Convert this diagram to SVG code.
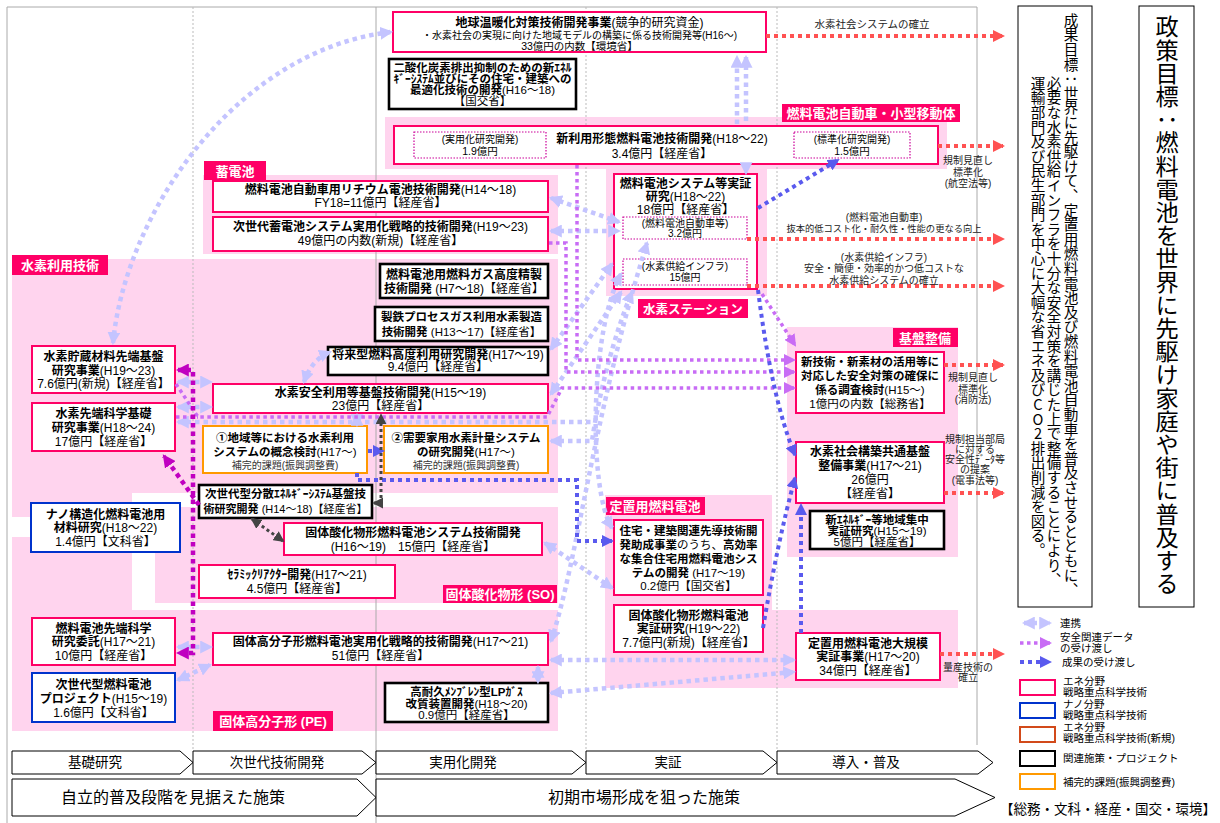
<svg xmlns="http://www.w3.org/2000/svg" width="1220" height="823" viewBox="0 0 1220 823">
<style>
text{font-family:"Liberation Sans","Noto Sans CJK JP",sans-serif;fill:#000;font-size:12px;text-anchor:middle}
.b{font-weight:bold}
.s10{font-size:10px}
.s11{font-size:11.5px}
.lab{font-size:10px;fill:#222}
.tag{fill:#ff0066}
.tagt{fill:#fff;font-weight:bold;font-size:13px}
.pk{fill:#ffd4ee}
.r{fill:#fff;stroke:#ff0066;stroke-width:2}
.bl{fill:#fff;stroke:#0033cc;stroke-width:2}
.k{fill:#fff;stroke:#000;stroke-width:2.6}
.o{fill:#fff;stroke:#ff9900;stroke-width:2}
.sub{fill:none;stroke:#cc0099;stroke-width:1.2;stroke-dasharray:1.5 1.5}
.grid{stroke:#aaa;stroke-width:1;fill:none}
.gd{stroke:#bbb;stroke-width:1;stroke-dasharray:2 2;fill:none}
.cL{fill:none;stroke:#c4c4ff;stroke-width:4.5;stroke-dasharray:4.5 4}
.cV{fill:none;stroke:#c86cf5;stroke-width:3.5;stroke-dasharray:3.5 3.5}
.cB{fill:none;stroke:#5a5aee;stroke-width:4;stroke-dasharray:4 4}
.cD{fill:none;stroke:#444;stroke-width:3;stroke-dasharray:3 3}
.cM{fill:none;stroke:#c000c0;stroke-width:4.5;stroke-dasharray:4.5 4}
.cR{fill:none;stroke:#ff5252;stroke-width:4;stroke-dasharray:4 4}
.stg{fill:#fff;stroke:#000;stroke-width:1}
.vt{writing-mode:vertical-rl;text-orientation:upright;font-family:"Noto Sans CJK JP",sans-serif;text-anchor:start}
.lg{font-size:10.5px;text-anchor:start}
</style>
<defs>
<marker id="mL" viewBox="0 0 12 12" refX="10" refY="6" markerWidth="13" markerHeight="13" markerUnits="userSpaceOnUse" orient="auto-start-reverse"><path d="M0,0 L12,6 L0,12 z" fill="#c4c4ff"/></marker>
<marker id="mV" viewBox="0 0 12 12" refX="10" refY="6" markerWidth="12" markerHeight="12" markerUnits="userSpaceOnUse" orient="auto-start-reverse"><path d="M0,0 L12,6 L0,12 z" fill="#c86cf5"/></marker>
<marker id="mB" viewBox="0 0 12 12" refX="10" refY="6" markerWidth="12" markerHeight="12" markerUnits="userSpaceOnUse" orient="auto-start-reverse"><path d="M0,0 L12,6 L0,12 z" fill="#5a5aee"/></marker>
<marker id="mD" viewBox="0 0 12 12" refX="10" refY="6" markerWidth="11" markerHeight="11" markerUnits="userSpaceOnUse" orient="auto-start-reverse"><path d="M0,0 L12,6 L0,12 z" fill="#444"/></marker>
<marker id="mM" viewBox="0 0 12 12" refX="10" refY="6" markerWidth="13" markerHeight="13" markerUnits="userSpaceOnUse" orient="auto-start-reverse"><path d="M0,0 L12,6 L0,12 z" fill="#c000c0"/></marker>
<marker id="mR" viewBox="0 0 12 12" refX="10" refY="6" markerWidth="12" markerHeight="12" markerUnits="userSpaceOnUse" orient="auto-start-reverse"><path d="M0,0 L12,6 L0,12 z" fill="#ff5252"/></marker>
</defs>
<rect x="0" y="0" width="1220" height="823" fill="#fff"/>

<g id="regions">
<rect class="pk" x="385" y="117" width="562" height="52"/>
<rect class="pk" x="203" y="175" width="355" height="79"/>
<rect class="pk" x="606" y="168" width="161" height="128"/>
<path class="pk" d="M12,259 H558 V493 H132 V517 H12 Z"/>
<rect class="pk" x="155" y="507" width="403" height="96"/>
<path class="pk" d="M12,537 H132 V610 H558 V731 H12 Z"/>
<path class="pk" d="M605,495 H772 V610 H958 V688 H605 Z"/>
<rect class="pk" x="787" y="327" width="171" height="230"/>
</g>

<g id="grid">
<line class="grid" x1="7" y1="7" x2="977" y2="7"/>
<line class="grid" x1="7" y1="7" x2="7" y2="823"/>
<line class="grid" x1="376" y1="7" x2="376" y2="823"/>
<line class="grid" x1="977" y1="7" x2="977" y2="745"/>
<line class="gd" x1="193" y1="7" x2="193" y2="751"/>
<line class="gd" x1="586" y1="7" x2="586" y2="751"/>
<line class="gd" x1="777" y1="7" x2="777" y2="751"/>
</g>

<g id="tags">
<rect class="tag" x="782" y="104" width="178" height="18"/><text class="tagt" x="871" y="118">燃料電池自動車・小型移動体</text>
<rect class="tag" x="204" y="161" width="62" height="19"/><text class="tagt" x="235" y="176">蓄電池</text>
<rect class="tag" x="12" y="255" width="96" height="20"/><text class="tagt" x="60" y="270">水素利用技術</text>
<rect class="tag" x="638" y="299" width="110" height="19"/><text class="tagt" x="693" y="314" style="font-size:12.5px">水素ステーション</text>
<rect class="tag" x="893" y="328" width="65" height="19"/><text class="tagt" x="925" y="343">基盤整備</text>
<rect class="tag" x="606" y="497" width="99" height="18"/><text class="tagt" x="655" y="511">定置用燃料電池</text>
<rect class="tag" x="443" y="585" width="114" height="18"/><text class="tagt" x="500" y="599">固体酸化物形 (SO)</text>
<rect class="tag" x="213" y="711" width="120" height="20"/><text class="tagt" x="273" y="726">固体高分子形 (PE)</text>
</g>

<g id="n-chikyu"><rect class="r" x="393" y="12" width="373" height="40"/>
<text x="579.5" y="27"><tspan class="b">地球温暖化対策技術開発事業</tspan>(競争的研究資金)</text>
<text class="s10" x="579.5" y="39">・水素社会の実現に向けた地域モデルの構築に係る技術開発等(H16～)</text>
<text x="579.5" y="49.5" style="font-size:10.5px">33億円の内数【環境省】</text></g>

<g id="n-co2"><rect class="k" x="389" y="59" width="187" height="50"/>
<text class="b s11" x="482.5" y="72">二酸化炭素排出抑制のための新ｴﾈﾙ</text>
<text class="b s11" x="482.5" y="83">ｷﾞｰｼｽﾃﾑ並びにその住宅・建築への</text>
<text class="s11" x="482.5" y="94"><tspan class="b">最適化技術の開発</tspan>(H16～18)</text>
<text class="s11" x="482.5" y="105">【国交省】</text></g>

<g id="n-shinriyo"><rect class="r" x="394" y="126" width="544" height="38"/>
<rect class="sub" x="414" y="132" width="132" height="26"/>
<rect class="sub" x="794" y="132" width="116" height="26"/>
<text x="662" y="143"><tspan class="b">新利用形態燃料電池技術開発</tspan>(H18～22)</text>
<text x="662" y="158">3.4億円【経産省】</text>
<text class="s10" x="480" y="143">(実用化研究開発)</text><text x="480" y="155" style="font-size:10.5px">1.9億円</text>
<text class="s10" x="852" y="143">(標準化研究開発)</text><text x="852" y="155" style="font-size:10.5px">1.5億円</text></g>

<g id="n-lithium"><rect class="r" x="213" y="181" width="335" height="31"/>
<text x="380.5" y="194"><tspan class="b">燃料電池自動車用リチウム電池技術開発</tspan>(H14～18)</text>
<text x="380.5" y="207">FY18=11億円【経産省】</text></g>

<g id="n-chikuden"><rect class="r" x="213" y="217" width="335" height="34"/>
<text x="380.5" y="231"><tspan class="b">次世代蓄電池システム実用化戦略的技術開発</tspan>(H19～23)</text>
<text x="380.5" y="245">49億円の内数(新規)【経産省】</text></g>

<g id="n-fcsystem"><rect class="r" x="614" y="174" width="143" height="115"/>
<rect class="sub" x="623" y="217" width="124" height="22"/>
<rect class="sub" x="623" y="259" width="124" height="26"/>
<text class="b" x="685.5" y="188">燃料電池システム等実証</text>
<text x="685.5" y="201"><tspan class="b">研究</tspan>(H18～22)</text>
<text x="685.5" y="214">18億円【経産省】</text>
<text class="s10" x="685" y="227">(燃料電池自動車等)</text><text class="s10" x="685" y="237">3.2億円</text>
<text class="s10" x="685" y="270">(水素供給インフラ)</text><text class="s10" x="685" y="281">15億円</text></g>

<g id="n-gas"><rect class="k" x="380" y="264" width="168" height="34"/>
<text class="b" x="464" y="279">燃料電池用燃料ガス高度精製</text>
<text x="464" y="293"><tspan class="b">技術開発</tspan> (H7～18)【経産省】</text></g>

<g id="n-seitetsu"><rect class="k" x="375" y="307" width="173" height="34"/>
<text class="b s11" x="461.5" y="321">製鉄プロセスガス利用水素製造</text>
<text class="s11" x="461.5" y="336"><tspan class="b">技術開発</tspan> (H13～17)【経産省】</text></g>

<g id="n-shorai"><rect class="k" x="328" y="347" width="220" height="28"/>
<text x="438" y="359"><tspan class="b">将来型燃料高度利用研究開発</tspan>(H17～19)</text>
<text x="438" y="371">9.4億円【経産省】</text></g>

<g id="n-anzen"><rect class="r" x="213" y="384" width="335" height="29"/>
<text x="380.5" y="397"><tspan class="b">水素安全利用等基盤技術開発</tspan>(H15～19)</text>
<text x="380.5" y="410">23億円【経産省】</text></g>

<g id="n-chiiki"><rect class="o" x="203" y="426" width="164" height="47"/>
<text class="b s11" x="285" y="442">①地域等における水素利用</text>
<text class="s11" x="285" y="456"><tspan class="b">システムの概念検討</tspan>(H17～)</text>
<text class="s10" x="285" y="469" style="fill:#333">補完的課題(振興調整費)</text></g>

<g id="n-keiryo"><rect class="o" x="384" y="426" width="164" height="47"/>
<text class="b s11" x="466" y="442">②需要家用水素計量システム</text>
<text class="s11" x="466" y="456"><tspan class="b">の研究開発</tspan>(H17～)</text>
<text class="s10" x="466" y="469" style="fill:#333">補完的課題(振興調整費)</text></g>

<g id="n-bunsan"><rect class="k" x="199" y="485" width="173" height="33"/>
<text class="b s11" x="285.5" y="498">次世代型分散ｴﾈﾙｷﾞｰｼｽﾃﾑ基盤技</text>
<text x="285.5" y="513" style="font-size:11px"><tspan class="b">術研究開発</tspan> (H14～18)【経産省】</text></g>

<g id="n-sofcsys"><rect class="r" x="284" y="523" width="258" height="32"/>
<text class="b" x="413" y="537">固体酸化物形燃料電池システム技術開発</text>
<text x="413" y="551">(H16～19)　15億円【経産省】</text></g>

<g id="n-ceramic"><rect class="r" x="199" y="565" width="196" height="33"/>
<text x="297" y="579"><tspan class="b">ｾﾗﾐｯｸﾘｱｸﾀｰ開発</tspan>(H17～21)</text>
<text x="297" y="593">4.5億円【経産省】</text></g>

<g id="n-pefc"><rect class="r" x="213" y="633" width="335" height="32"/>
<text x="380.5" y="646"><tspan class="b">固体高分子形燃料電池実用化戦略的技術開発</tspan>(H17～21)</text>
<text x="380.5" y="660">51億円【経産省】</text></g>

<g id="n-lpg"><rect class="k" x="385" y="683" width="163" height="39"/>
<text class="b s11" x="466.5" y="696">高耐久ﾒﾝﾌﾞﾚﾝ型LPｶﾞｽ</text>
<text class="s11" x="466.5" y="708"><tspan class="b">改質装置開発</tspan>(H18～20)</text>
<text class="s11" x="466.5" y="719">0.9億円【経産省】</text></g>

<g id="n-chozo"><rect class="r" x="32" y="346" width="143" height="47"/>
<text class="b" x="103.5" y="361">水素貯蔵材料先端基盤</text>
<text x="103.5" y="375"><tspan class="b">研究事業</tspan>(H19～23)</text>
<text x="103.5" y="388">7.6億円(新規)【経産省】</text></g>

<g id="n-sentan"><rect class="r" x="32" y="403" width="143" height="48"/>
<text class="b" x="103.5" y="418">水素先端科学基礎</text>
<text x="103.5" y="432"><tspan class="b">研究事業</tspan>(H18～24)</text>
<text x="103.5" y="446">17億円【経産省】</text></g>

<g id="n-nano"><rect class="bl" x="31" y="503" width="149" height="49"/>
<text class="b" x="105.5" y="519">ナノ構造化燃料電池用</text>
<text x="105.5" y="532"><tspan class="b">材料研究</tspan>(H18～22)</text>
<text x="105.5" y="546">1.4億円【文科省】</text></g>

<g id="n-fcsentan"><rect class="r" x="32" y="618" width="143" height="47"/>
<text class="b" x="103.5" y="633">燃料電池先端科学</text>
<text x="103.5" y="646"><tspan class="b">研究委託</tspan>(H17～21)</text>
<text x="103.5" y="660">10億円【経産省】</text></g>

<g id="n-nextfc"><rect class="bl" x="32" y="673" width="143" height="49"/>
<text class="b" x="103.5" y="689">次世代型燃料電池</text>
<text x="103.5" y="703"><tspan class="b">プロジェクト</tspan>(H15～19)</text>
<text x="103.5" y="717">1.6億円【文科省】</text></g>

<g id="n-jutaku"><rect class="r" x="614" y="520" width="149" height="75"/>
<text class="b s11" x="688.5" y="535">住宅・建築関連先導技術開</text>
<text class="s11" x="688.5" y="549"><tspan class="b">発助成事業</tspan>のうち、<tspan class="b">高効率</tspan></text>
<text class="b s11" x="688.5" y="563">な集合住宅用燃料電池シス</text>
<text class="s11" x="688.5" y="577"><tspan class="b">テムの開発</tspan> (H17～19)</text>
<text class="s11" x="688.5" y="590">0.2億円【国交省】</text></g>

<g id="n-sofcjissho"><rect class="r" x="614" y="605" width="149" height="47"/>
<text class="b" x="688.5" y="620">固体酸化物形燃料電池</text>
<text x="688.5" y="633"><tspan class="b">実証研究</tspan>(H19～22)</text>
<text x="688.5" y="647">7.7億円(新規)【経産省】</text></g>

<g id="n-shingijutsu"><rect class="r" x="796" y="352" width="148" height="61"/>
<text class="b s11" x="870" y="366">新技術・新素材の活用等に</text>
<text class="b s11" x="870" y="380">対応した安全対策の確保に</text>
<text class="s11" x="870" y="394"><tspan class="b">係る調査検討</tspan>(H15～)</text>
<text class="s11" x="870" y="408">1億円の内数【総務省】</text></g>

<g id="n-kyotsu"><rect class="r" x="796" y="442" width="148" height="61"/>
<text class="b" x="870" y="456">水素社会構築共通基盤</text>
<text x="870" y="470"><tspan class="b">整備事業</tspan>(H17～21)</text>
<text x="870" y="484">26億円</text>
<text x="870" y="498">【経産省】</text></g>

<g id="n-chiikishuchu"><rect class="k" x="810" y="511" width="134" height="38"/>
<text class="b s11" x="877" y="524">新ｴﾈﾙｷﾞｰ等地域集中</text>
<text class="s11" x="877" y="535"><tspan class="b">実証研究</tspan>(H15～19)</text>
<text class="s11" x="877" y="546">5億円【経産省】</text></g>

<g id="n-teichi"><rect class="r" x="796" y="633" width="144" height="47"/>
<text class="b" x="868" y="648">定置用燃料電池大規模</text>
<text x="868" y="661"><tspan class="b">実証事業</tspan>(H17～20)</text>
<text x="868" y="675">34億円【経産省】</text></g>

<g id="connectors">
<path class="cR" d="M766,36 H1003" marker-end="url(#mR)"/>
<path class="cR" d="M938,146 H1003" marker-end="url(#mR)"/>
<path class="cR" d="M747,239 H1003" marker-end="url(#mR)"/>
<path class="cR" d="M747,286 H1003" marker-end="url(#mR)"/>
<path class="cR" d="M944,365 H1003" marker-end="url(#mR)"/>
<path class="cR" d="M944,493 H1003" marker-end="url(#mR)"/>
<path class="cR" d="M940,654 H1003" marker-end="url(#mR)"/>

<path class="cL" d="M113,343 C125,215 235,50 391,32" marker-start="url(#mL)" marker-end="url(#mL)"/>
<path class="cL" d="M737,124 V57" marker-end="url(#mL)"/>
<path class="cL" d="M746,57 V124" marker-start="url(#mL)"/>
<path class="cL" d="M746,164 V173" marker-end="url(#mL)"/>
<path class="cL" d="M551,198 L619,222" marker-start="url(#mL)" marker-end="url(#mL)"/>
<path class="cL" d="M551,231 H619" marker-start="url(#mL)" marker-end="url(#mL)"/>
<path class="cL" d="M178,382 H211" marker-start="url(#mL)" marker-end="url(#mL)"/>
<path class="cL" d="M178,407 H211" marker-start="url(#mL)" marker-end="url(#mL)"/>
<path class="cL" d="M178,422 H594" marker-start="url(#mL)"/>
<path class="cL" d="M551,349 L612,264" marker-start="url(#mL)" marker-end="url(#mL)"/>
<path class="cL" d="M551,394 L621,292" marker-start="url(#mL)" marker-end="url(#mL)"/>
<path class="cL" d="M551,441 H592 C598,400 612,340 632,292" marker-start="url(#mL)" marker-end="url(#mL)"/>
<path class="cL" d="M551,641 C578,560 592,420 647,243" marker-start="url(#mL)" marker-end="url(#mL)"/>
<path class="cL" d="M612,528 C588,490 590,330 621,274" marker-start="url(#mL)" marker-end="url(#mL)"/>
<path class="cL" d="M357,415 V425" marker-start="url(#mL)" marker-end="url(#mL)"/>
<path class="cL" d="M304,382 Q312,359 330,352" marker-start="url(#mL)" marker-end="url(#mL)"/>
<path class="cL" d="M545,543 L612,588" marker-start="url(#mL)" marker-end="url(#mL)"/>
<path class="cL" d="M551,660 H794" marker-start="url(#mL)" marker-end="url(#mL)"/>
<path class="cL" d="M551,693 L794,672" marker-start="url(#mL)" marker-end="url(#mL)"/>
<path class="cL" d="M538,667 V682" marker-start="url(#mL)" marker-end="url(#mL)"/>
<path class="cL" d="M178,647 H211" marker-start="url(#mL)" marker-end="url(#mL)"/>
<path class="cL" d="M178,680 L210,665" marker-start="url(#mL)" marker-end="url(#mL)"/>

<path class="cV" d="M577,165 V360 H794" marker-end="url(#mV)"/>
<path class="cV" d="M549,243 H566 V372 H794" marker-end="url(#mV)"/>
<path class="cV" d="M176,384 L198,417 H547 L562,388 H794" marker-end="url(#mV)"/>
<path class="cV" d="M176,417 H198"/>
<path class="cV" d="M762,294 L795,345" marker-end="url(#mV)"/>

<path class="cB" d="M758,208 L838,160" marker-end="url(#mB)"/>
<path class="cB" d="M758,290 Q772,400 795,455" marker-end="url(#mB)"/>
<path class="cB" d="M763,628 Q778,540 795,478" marker-end="url(#mB)"/>
<path class="cB" d="M801,633 V505" marker-end="url(#mB)"/>
<path class="cB" d="M368,451 H383" marker-end="url(#mB)"/>
<path class="cB" d="M357,473 V480 H577 V541 H612" marker-end="url(#mB)"/>

<path class="cD" d="M374,503 H381 V415" marker-start="url(#mD)" marker-end="url(#mD)"/>
<path class="cD" d="M252,519 L283,541" marker-start="url(#mD)" marker-end="url(#mD)"/>

<path class="cM" d="M178,370 H193 V653 H178" marker-start="url(#mM)" marker-end="url(#mM)"/>
<path class="cM" d="M199,505 L164,456" marker-end="url(#mM)"/>
</g>

<g id="labels">
<text class="lab" x="872" y="28" style="font-size:10.5px">水素社会システムの確立</text>
<text class="lab" x="968" y="164">規制見直し</text>
<text class="lab" x="968" y="176">標準化</text>
<text class="lab" x="968" y="187">(航空法等)</text>
<text class="lab" x="884" y="221">(燃料電池自動車)</text>
<text class="lab" x="884" y="232" style="font-size:9.3px">抜本的低コスト化・耐久性・性能の更なる向上</text>
<text class="lab" x="884" y="261">(水素供給インフラ)</text>
<text class="lab" x="884" y="272">安全・簡便・効率的かつ低コストな</text>
<text class="lab" x="884" y="284">水素供給システムの確立</text>
<text class="lab" x="973" y="381">規制見直し</text>
<text class="lab" x="973" y="393">標準化</text>
<text class="lab" x="973" y="403">(消防法)</text>
<text class="lab" x="975" y="443">規制担当部局</text>
<text class="lab" x="975" y="453">に対する</text>
<text class="lab" x="975" y="463">安全性ﾃﾞｰﾀ等</text>
<text class="lab" x="975" y="473">の提案</text>
<text class="lab" x="975" y="484">(電事法等)</text>
<text class="lab" x="968" y="671">量産技術の</text>
<text class="lab" x="968" y="681">確立</text>
</g>

<g id="stages">
<path class="stg" d="M12,751 H180 L193,762.5 L180,774 H12 Z"/><text x="95" y="767" style="font-size:13.5px">基礎研究</text>
<path class="stg" d="M193,751 H362 L376,762.5 L362,774 H193 Z"/><text x="277" y="767" style="font-size:13.5px">次世代技術開発</text>
<path class="stg" d="M376,751 H572 L586,762.5 L572,774 H376 Z"/><text x="463" y="767" style="font-size:13.5px">実用化開発</text>
<path class="stg" d="M586,751 H763 L777,762.5 L763,774 H586 Z"/><text x="668" y="767" style="font-size:13.5px">実証</text>
<path class="stg" d="M777,751 H978 L993,762.5 L978,774 H777 Z"/><text x="866" y="767" style="font-size:13.5px">導入・普及</text>
<path class="stg" d="M12,779 H357 L376,797.5 L357,816 H12 Z"/><text x="173" y="803" style="font-size:16px">自立的普及段階を見据えた施策</text>
<path class="stg" d="M376,779 H955 L995,797.5 L955,816 H376 Z"/><text x="644" y="803" style="font-size:16px">初期市場形成を狙った施策</text>
</g>

<g id="goals">
<rect x="1018" y="6" width="74" height="601" fill="#fff" stroke="#000" stroke-width="1"/>
<text class="vt" x="1071" y="13" style="font-size:14.6px">成果目標：世界に先駆けて、定置用燃料電池及び燃料電池自動車を普及させるとともに、</text>
<text class="vt" x="1054" y="76" style="font-size:14.6px">必要な水素供給インフラを十分な安全対策を講じた上で整備することにより、</text>
<text class="vt" x="1038" y="76" style="font-size:14.6px">運輸部門及び民生部門を中心に大幅な省エネ及びCO2排出削減を図る。</text>
<rect x="1139" y="6" width="55" height="601" fill="#fff" stroke="#000" stroke-width="1"/>
<text class="vt" x="1167" y="15" style="font-size:23.2px">政策目標：燃料電池を世界に先駆け家庭や街に普及する</text>
</g>

<g id="legend">
<path class="cL" d="M1024,623 H1050" marker-start="url(#mL)" marker-end="url(#mL)"/>
<text class="lg" x="1060" y="627">連携</text>
<path class="cV" d="M1020,643 H1050" marker-end="url(#mV)"/>
<text class="lg" x="1060" y="641">安全関連データ</text>
<text class="lg" x="1060" y="652">の受け渡し</text>
<path class="cB" d="M1020,662 H1050" marker-end="url(#mB)"/>
<text class="lg" x="1062" y="666">成果の受け渡し</text>
<rect x="1020" y="680" width="35" height="15" fill="#fff" stroke="#ff0066" stroke-width="2"/>
<text class="lg" x="1063" y="685">エネ分野</text><text class="lg" x="1063" y="696">戦略重点科学技術</text>
<rect x="1020" y="703" width="35" height="15" fill="#fff" stroke="#0033cc" stroke-width="2"/>
<text class="lg" x="1063" y="708">ナノ分野</text><text class="lg" x="1063" y="719">戦略重点科学技術</text>
<rect x="1020" y="727" width="35" height="15" fill="#fff" stroke="#d24a1a" stroke-width="2"/>
<text class="lg" x="1063" y="731">エネ分野</text><text class="lg" x="1063" y="742">戦略重点科学技術(新規)</text>
<rect x="1020" y="751" width="35" height="15" fill="#fff" stroke="#000" stroke-width="2"/>
<text class="lg" x="1063" y="762">関連施策・プロジェクト</text>
<rect x="1020" y="774" width="35" height="15" fill="#fff" stroke="#ff9900" stroke-width="2"/>
<text class="lg" x="1063" y="786">補完的課題(振興調整費)</text>
<text x="1216" y="814" style="font-size:13.5px;text-anchor:end">【総務・文科・経産・国交・環境】</text>
</g>
</svg>
